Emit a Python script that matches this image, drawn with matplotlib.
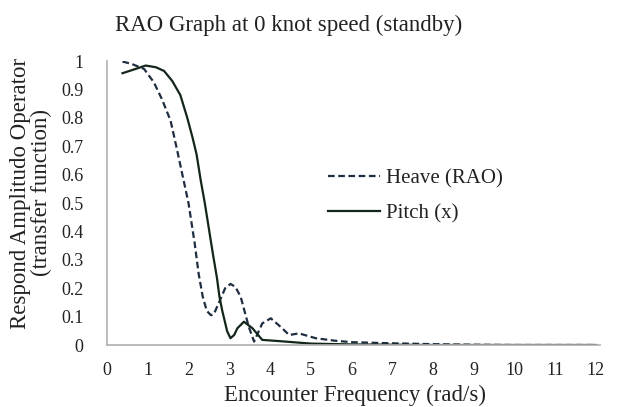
import matplotlib
matplotlib.use('Agg')
import matplotlib.pyplot as plt

plt.rcParams['font.family'] = ['Liberation Serif', 'DejaVu Serif']

# Heave (RAO)
heave_x = [0.38, 0.6, 0.91, 1.15, 1.35, 1.56, 1.7, 1.85, 2.0, 2.15, 2.25, 2.35, 2.45, 2.55, 2.62,
           2.75, 2.9, 3.03, 3.15, 3.28, 3.48, 3.61, 3.81, 4.02, 4.3, 4.47, 4.71, 5.12,
           5.6, 6.0, 7.0, 8.0, 9.0, 10.0, 11.0, 12.0]
heave_y = [0.998, 0.99, 0.972, 0.925, 0.865, 0.79, 0.70, 0.60, 0.50, 0.36, 0.25, 0.17, 0.12, 0.105, 0.108,
           0.15, 0.2, 0.215, 0.205, 0.17, 0.064, 0.012, 0.076, 0.094, 0.059, 0.035, 0.041, 0.024,
           0.015, 0.01, 0.006, 0.003, 0.001, 0.0, 0.0, 0.0]

# Pitch (x)
pitch_x = [0.38, 0.7, 0.95, 1.2, 1.4, 1.6, 1.8, 1.97, 2.1, 2.2, 2.3, 2.4, 2.5, 2.6, 2.7, 2.76,
           2.83, 2.95, 3.03, 3.12, 3.2, 3.36, 3.57, 3.81, 4.1, 4.38, 5.0, 6.0, 7.0, 8.0, 9.0,
           10.0, 11.0, 12.0]
pitch_y = [0.957, 0.972, 0.984, 0.978, 0.965, 0.93, 0.88, 0.80, 0.73, 0.67, 0.58, 0.50, 0.41, 0.32,
           0.235, 0.17, 0.12, 0.048, 0.024, 0.035, 0.059, 0.082, 0.059, 0.018, 0.015, 0.012, 0.005,
           0.002, 0.001, 0.0, 0.0, 0.0, 0.0, 0.0]

x_ticks = list(range(0, 13))
y_ticks = [0, 0.1, 0.2, 0.3, 0.4, 0.5, 0.6, 0.7, 0.8, 0.9, 1]
y_tick_labels = ['0', '0.1', '0.2', '0.3', '0.4', '0.5', '0.6', '0.7', '0.8', '0.9', '1']

fig = plt.figure(figsize=(6.18, 4.07), dpi=100)
ax = fig.add_axes([107 / 618, 1 - 345 / 407, (600 - 107) / 618, (345 - 61) / 407])

ax.plot(heave_x, heave_y, color='#1f2d40', lw=1.6, linestyle=(0, (3, 1.6)), label='Heave (RAO)')
ax.plot(pitch_x, pitch_y, color='#14261a', lw=1.6, label='Pitch (x)')

ax.set_xlim(0, 12.1)
ax.set_ylim(0, 1)
ax.set_xticks(x_ticks)
ax.set_yticks(y_ticks)
ax.set_yticklabels(y_tick_labels)
ax.tick_params(length=0, labelsize=13, colors='#222222')
ax.tick_params(axis='x', pad=12)
ax.tick_params(axis='y', pad=17)

for side in ['top', 'right']:
    ax.spines[side].set_visible(False)
ax.spines['left'].set_color('#b0b0b0')
ax.spines['bottom'].set_color('#b0b0b0')
ax.spines['left'].set_linewidth(1.2)
ax.spines['bottom'].set_linewidth(1.2)

fig.text(289 / 618, 1 - 25 / 407, 'RAO Graph at 0 knot speed (standby)', ha='center', va='center',
         fontsize=16.5, color='#222222')
fig.text(355 / 618, 1 - 395 / 407, 'Encounter Frequency (rad/s)', ha='center', va='center',
         fontsize=16.5, color='#222222')
fig.text(31 / 618, 1 - 193 / 407, 'Respond Amplitudo Operator\n(transfer function)', ha='center',
         va='center', rotation=90, fontsize=16.5, color='#222222', linespacing=0.95)

leg = ax.legend(loc='upper left', bbox_to_anchor=(328 / 618, 1 - 169 / 407),
                bbox_transform=fig.transFigure, frameon=False, fontsize=15,
                handlelength=2.5, handletextpad=0.3, labelspacing=0.75,
                borderpad=0, borderaxespad=0)
for t in leg.get_texts():
    t.set_color('#222222')

fig.savefig('out.png', dpi=100)
